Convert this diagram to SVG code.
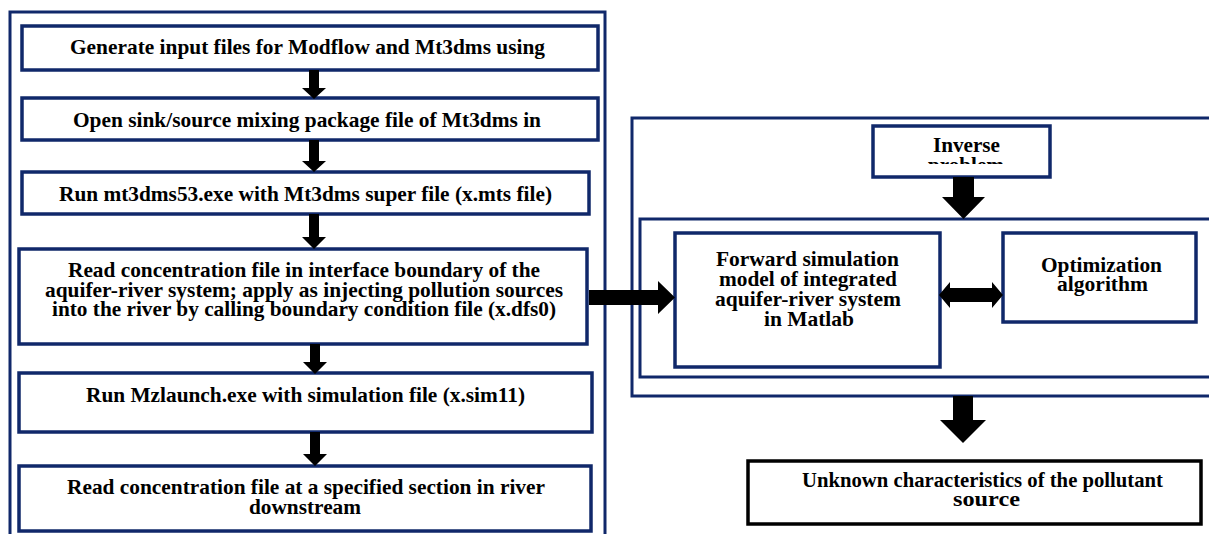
<svg xmlns="http://www.w3.org/2000/svg" width="1209" height="534" viewBox="0 0 1209 534">
<style>
.frame{fill:none;stroke:#10286a;stroke-width:3}
.box{fill:#fff;stroke:#10286a;stroke-width:3.5}
.bbox{fill:#fff;stroke:#000;stroke-width:3.5}
.t{font-family:'Liberation Serif','Times New Roman',Tinos,serif;font-weight:bold;font-size:22px;fill:#000;text-anchor:middle}
.arr{fill:#000;stroke:none}
</style>
<defs>
<clipPath id="invclip"><rect x="874" y="128" width="177" height="36"/></clipPath>
</defs>
<rect width="1209" height="534" fill="#fff"/>
<g id="frames">
<rect id="left-frame" class="frame" x="10" y="12" width="595" height="540"/>
<rect id="right-frame" class="frame" x="632" y="118" width="600" height="278"/>
<rect id="inner-frame" class="frame" x="640" y="219" width="590" height="158"/>
</g>
<g id="n1"><rect class="box" x="22" y="26" width="576" height="44"/><text class="t" x="307.5" y="54" textLength="475" lengthAdjust="spacingAndGlyphs">Generate input files for Modflow and Mt3dms using</text></g>
<g id="n2"><rect class="box" x="22" y="98" width="576" height="42"/><text class="t" x="307" y="127" textLength="468" lengthAdjust="spacingAndGlyphs">Open sink/source mixing package file of Mt3dms in</text></g>
<g id="n3"><rect class="box" x="22" y="172" width="567" height="42"/><text class="t" x="305.5" y="201" textLength="493" lengthAdjust="spacingAndGlyphs">Run mt3dms53.exe with Mt3dms super file (x.mts file)</text></g>
<g id="n4"><rect class="box" x="19" y="249" width="568" height="95"/>
<text class="t" x="304" y="277" textLength="472" lengthAdjust="spacingAndGlyphs">Read concentration file in interface boundary of the</text>
<text class="t" x="304" y="297" textLength="518" lengthAdjust="spacingAndGlyphs">aquifer-river system; apply as injecting pollution sources</text>
<text class="t" x="304" y="316" textLength="504" lengthAdjust="spacingAndGlyphs">into the river by calling boundary condition file (x.dfs0)</text></g>
<g id="n5"><rect class="box" x="19" y="373" width="573" height="59"/><text class="t" x="305.5" y="402" textLength="439" lengthAdjust="spacingAndGlyphs">Run Mzlaunch.exe with simulation file (x.sim11)</text></g>
<g id="n6"><rect class="box" x="19" y="466" width="572" height="65"/>
<text class="t" x="306" y="494" textLength="478" lengthAdjust="spacingAndGlyphs">Read concentration file at a specified section in river</text>
<text class="t" x="305" y="514" textLength="112" lengthAdjust="spacingAndGlyphs">downstream</text></g>
<g id="inverse"><rect class="box" x="873" y="126" width="177" height="51"/>
<g clip-path="url(#invclip)"><text class="t" x="966.5" y="152" textLength="67" lengthAdjust="spacingAndGlyphs">Inverse</text><text class="t" x="966" y="172" textLength="76" lengthAdjust="spacingAndGlyphs">problem</text></g></g>
<g id="forward"><rect class="box" x="675" y="233" width="265" height="134"/>
<text class="t" x="807.5" y="266" textLength="183" lengthAdjust="spacingAndGlyphs">Forward simulation</text>
<text class="t" x="808" y="286" textLength="178" lengthAdjust="spacingAndGlyphs">model of integrated</text>
<text class="t" x="808" y="306" textLength="186" lengthAdjust="spacingAndGlyphs">aquifer-river system</text>
<text class="t" x="809" y="326" textLength="90" lengthAdjust="spacingAndGlyphs">in Matlab</text></g>
<g id="optim"><rect class="box" x="1003" y="233" width="193" height="89"/>
<text class="t" x="1101.5" y="272" textLength="121" lengthAdjust="spacingAndGlyphs">Optimization</text>
<text class="t" x="1102.5" y="291" textLength="91" lengthAdjust="spacingAndGlyphs">algorithm</text></g>
<g id="unknown"><rect class="bbox" x="748" y="461" width="453" height="63"/>
<text class="t" x="982.5" y="487" textLength="361" lengthAdjust="spacingAndGlyphs">Unknown characteristics of the pollutant</text>
<text class="t" x="986.5" y="506" textLength="67" lengthAdjust="spacingAndGlyphs">source</text></g>
<g id="connectors">
<polygon class="arr" points="309,70 319,70 319,88 326,88 314,99 302,88 309,88"/>
<polygon class="arr" points="309,140 319,140 319,161 326,161 314,172 302,161 309,161"/>
<polygon class="arr" points="309,214 319,214 319,237 326,237 314,249 302,237 309,237"/>
<polygon class="arr" points="310,344 320,344 320,362 327,362 315,374 303,362 310,362"/>
<polygon class="arr" points="310,432 320,432 320,454 327,454 315,466 303,454 310,454"/>
<polygon class="arr" points="589,290 658,290 658,281 675,297.5 658,314 658,305 589,305"/>
<polygon class="arr" points="953,177 974,177 974,197 985,197 963.5,219 942,197 953,197"/>
<polygon class="arr" points="953,396 973,396 973,420 986,420 963,443 940,420 953,420"/>
<polygon class="arr" points="939,295 950,282 950,288 992,288 992,282 1003,295 992,308 992,302 950,302 950,308"/>
</g>
</svg>
